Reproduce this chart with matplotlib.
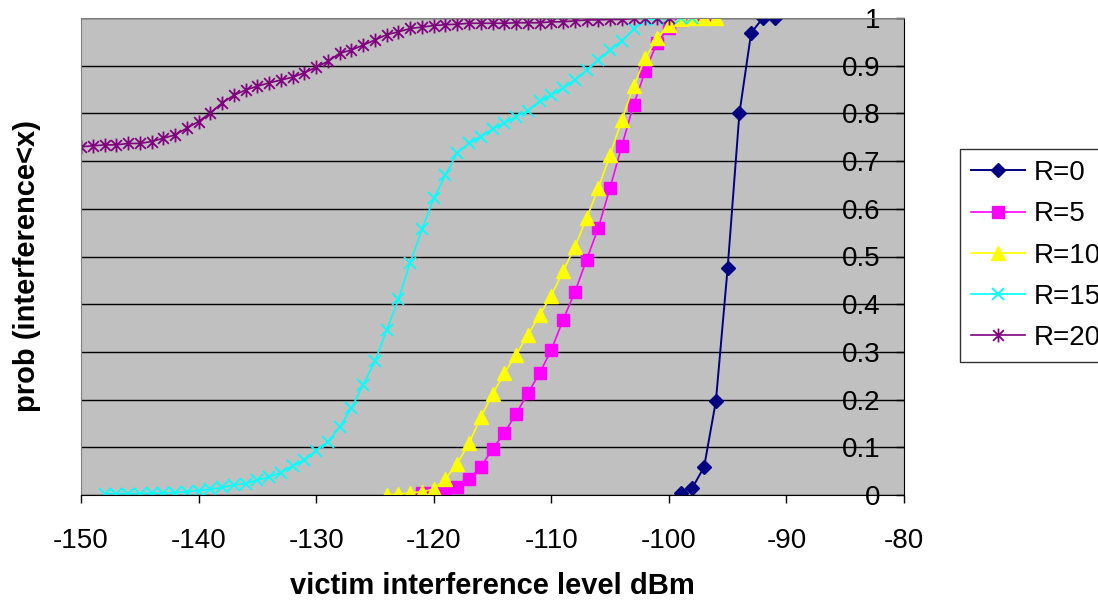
import numpy as np
import matplotlib
matplotlib.use("Agg")
import matplotlib.pyplot as plt
from matplotlib.path import Path

plt.rcParams['font.family'] = ['Liberation Sans', 'DejaVu Sans']
plt.rcParams['axes.unicode_minus'] = False

# interference level (dBm), 1 dB steps, and cumulative probability per series
r0_x = np.arange(-99, -90)
r0_y = [0.005, 0.015, 0.059, 0.197, 0.476, 0.800, 0.969, 1.0, 1.0]

r5_x = np.arange(-121, -96)
r5_y = [0.004, 0.005, 0.008, 0.017, 0.033, 0.059, 0.096, 0.130, 0.170, 0.213,
        0.255, 0.304, 0.367, 0.425, 0.493, 0.560, 0.644, 0.732, 0.818, 0.889,
        0.948, 0.980, 0.995, 1.0, 1.0]

r10_x = np.arange(-124, -95)
r10_y = [0.0, 0.002, 0.004, 0.007, 0.012, 0.034, 0.066, 0.108, 0.163, 0.211,
         0.255, 0.294, 0.335, 0.377, 0.418, 0.469, 0.520, 0.580, 0.643, 0.713,
         0.786, 0.857, 0.916, 0.958, 0.985, 0.998, 1.0, 1.0, 1.0]

r15_x = np.arange(-148, -97)
r15_y = [0.003, 0.003, 0.003, 0.003, 0.004, 0.004, 0.005, 0.007, 0.009, 0.012,
         0.016, 0.021, 0.024, 0.031, 0.038, 0.047, 0.061, 0.073, 0.093, 0.112,
         0.142, 0.182, 0.231, 0.280, 0.346, 0.410, 0.487, 0.557, 0.622, 0.671,
         0.717, 0.737, 0.751, 0.767, 0.780, 0.793, 0.806, 0.825, 0.839, 0.853,
         0.870, 0.890, 0.912, 0.933, 0.952, 0.976, 0.996, 0.998, 1.0, 1.0, 1.0]

r20_x = np.arange(-150, -99)
r20_y = [0.730, 0.732, 0.734, 0.734, 0.737, 0.737, 0.741, 0.748, 0.755, 0.769,
         0.783, 0.801, 0.822, 0.838, 0.849, 0.857, 0.864, 0.870, 0.876, 0.885,
         0.897, 0.909, 0.926, 0.933, 0.943, 0.954, 0.965, 0.971, 0.978, 0.981,
         0.984, 0.986, 0.987, 0.989, 0.989, 0.989, 0.989, 0.990, 0.990, 0.990,
         0.992, 0.992, 0.994, 0.996, 0.996, 0.997, 0.997, 0.999, 1.0, 1.0, 1.0]

x_ticks = [-150, -140, -130, -120, -110, -100, -90, -80]
y_ticks = [0, 0.1, 0.2, 0.3, 0.4, 0.5, 0.6, 0.7, 0.8, 0.9, 1]
y_labels = ['0', '0.1', '0.2', '0.3', '0.4', '0.5', '0.6', '0.7', '0.8', '0.9', '1']

# excel style star: x with a vertical bar
star = Path([(-1, -1), (1, 1), (-1, 1), (1, -1), (0, -1.3), (0, 1.3)],
            [Path.MOVETO, Path.LINETO, Path.MOVETO, Path.LINETO, Path.MOVETO, Path.LINETO])

fig = plt.figure(figsize=(10.98, 6.01), dpi=100)
ax = fig.add_axes([81 / 1098, 1 - 495 / 601, 823 / 1098, 477 / 601])
ax.set_facecolor('#C0C0C0')

ax.plot(r0_x, r0_y, color='#000080', lw=1.4, marker='D', ms=7, label='R=0')
ax.plot(r5_x, r5_y, color='#FF00FF', lw=1.2, marker='s', ms=8, label='R=5')
ax.plot(r10_x, r10_y, color='#FFFF00', lw=1.2, marker='^', ms=9.5, label='R=10')
ax.plot(r15_x, r15_y, color='#00FFFF', lw=1.2, marker='x', ms=9, mew=1.3, label='R=15')
ax.plot(r20_x, r20_y, color='#800080', lw=1.2, marker=star, ms=10, mew=1.3,
        mfc='none', label='R=20')

ax.set_xlim(-150, -80)
ax.set_ylim(0, 1)
ax.set_xticks(x_ticks)
ax.set_yticks(y_ticks)
ax.set_yticklabels(y_labels)
ax.yaxis.grid(True, color='black', lw=1)
ax.set_axisbelow(True)

ax.yaxis.tick_right()
ax.tick_params(axis='y', direction='in', length=5.5, width=1, pad=-17, labelsize=20)
for lab in ax.get_yticklabels():
    lab.set_ha('right')
ax.tick_params(axis='x', direction='out', length=6, width=1, pad=18, labelsize=20)

for side in ['left', 'top']:
    ax.spines[side].set_color('#808080')
for side in ['right', 'bottom']:
    ax.spines[side].set_color('black')

ax.set_xlabel('victim interference level dBm', fontsize=21, fontweight='bold')
ax.xaxis.set_label_coords(0.5, -0.162)
ax.set_ylabel('prob (interference<x)', fontsize=21, fontweight='bold')
ax.yaxis.set_label_coords(-0.048, 0.48)

leg = fig.legend(loc='upper left', bbox_to_anchor=(960 / 1098, 1 - 149 / 601),
                 fontsize=20, frameon=True, fancybox=False, edgecolor='black',
                 handlelength=1.95, handletextpad=0.3, labelspacing=0.55,
                 borderpad=0.4, borderaxespad=0)
leg.get_frame().set_linewidth(1)

fig.savefig('out.png', dpi=100)
